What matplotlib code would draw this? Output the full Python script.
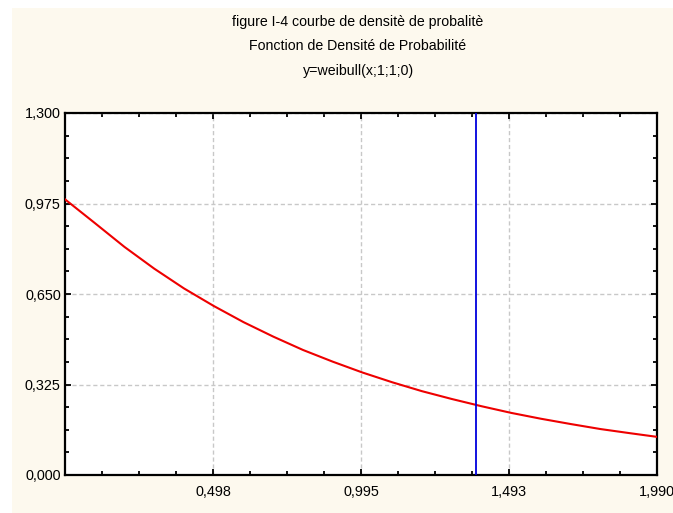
import matplotlib
matplotlib.use("Agg")
import matplotlib.pyplot as plt
from matplotlib.patches import Rectangle

# values (weibull density, shape 1, scale 1)
x_vals = [0.00, 0.10, 0.20, 0.30, 0.40, 0.50, 0.60, 0.70, 0.80, 0.90, 1.00,
          1.10, 1.20, 1.30, 1.40, 1.50, 1.60, 1.70, 1.80, 1.90, 1.99]
y_vals = [0.990, 0.905, 0.819, 0.741, 0.670, 0.607, 0.549, 0.497, 0.449, 0.407, 0.368,
          0.333, 0.301, 0.273, 0.247, 0.223, 0.202, 0.183, 0.165, 0.150, 0.137]
marker_x = 1.38

x_ticks = [0.4975, 0.995, 1.4925, 1.99]
x_labels = ["0,498", "0,995", "1,493", "1,990"]
y_ticks = [0.0, 0.325, 0.65, 0.975, 1.3]
y_labels = ["0,000", "0,325", "0,650", "0,975", "1,300"]

titles = ["figure I-4 courbe de densitè de probalitè",
          "Fonction de Densité de Probabilité",
          "y=weibull(x;1;1;0)"]

plt.rcParams['font.family'] = ['Liberation Sans', 'DejaVu Sans']

fig = plt.figure(figsize=(6.73, 5.13), dpi=100)
fig.patch.set_facecolor("white")
fig.patches.append(Rectangle((12 / 673, 0), 1, 1 - 8 / 513, transform=fig.transFigure,
                             facecolor="#fdf9ee", edgecolor="none", zorder=-10))

ax = fig.add_axes([65 / 673, 38 / 513, 592 / 673, 362 / 513])
ax.set_facecolor("white")

ax.plot(x_vals, y_vals, color="#ee0000", linewidth=1.5, zorder=3)
ax.axvline(marker_x, color="#0000dd", linewidth=1.3, zorder=4)

ax.set_xlim(0, 1.99)
ax.set_ylim(0, 1.3)
ax.set_xticks(x_ticks)
ax.set_xticklabels(x_labels)
ax.set_yticks(y_ticks)
ax.set_yticklabels(y_labels)
ax.set_xticks([i * 0.4975 / 4 for i in range(17)], minor=True)
ax.set_yticks([i * 0.325 / 4 for i in range(17)], minor=True)

ax.tick_params(which="both", direction="in", top=True, right=True,
               labelsize=10.4, width=1.3, color="black")
ax.tick_params(which="major", length=4)
ax.tick_params(which="minor", length=3)
ax.tick_params(axis="x", pad=7)
ax.tick_params(axis="y", pad=3)

ax.grid(True, which="major", color="#c8c8c8", linestyle=(0, (3, 2)), linewidth=1)
for s in ax.spines.values():
    s.set_linewidth(1.6)

for i, t in enumerate(titles):
    fig.text(358 / 673, 1 - (22 + 24.5 * i) / 513, t, ha="center", va="center", fontsize=10.2)

fig.savefig("out.png", dpi=100)
